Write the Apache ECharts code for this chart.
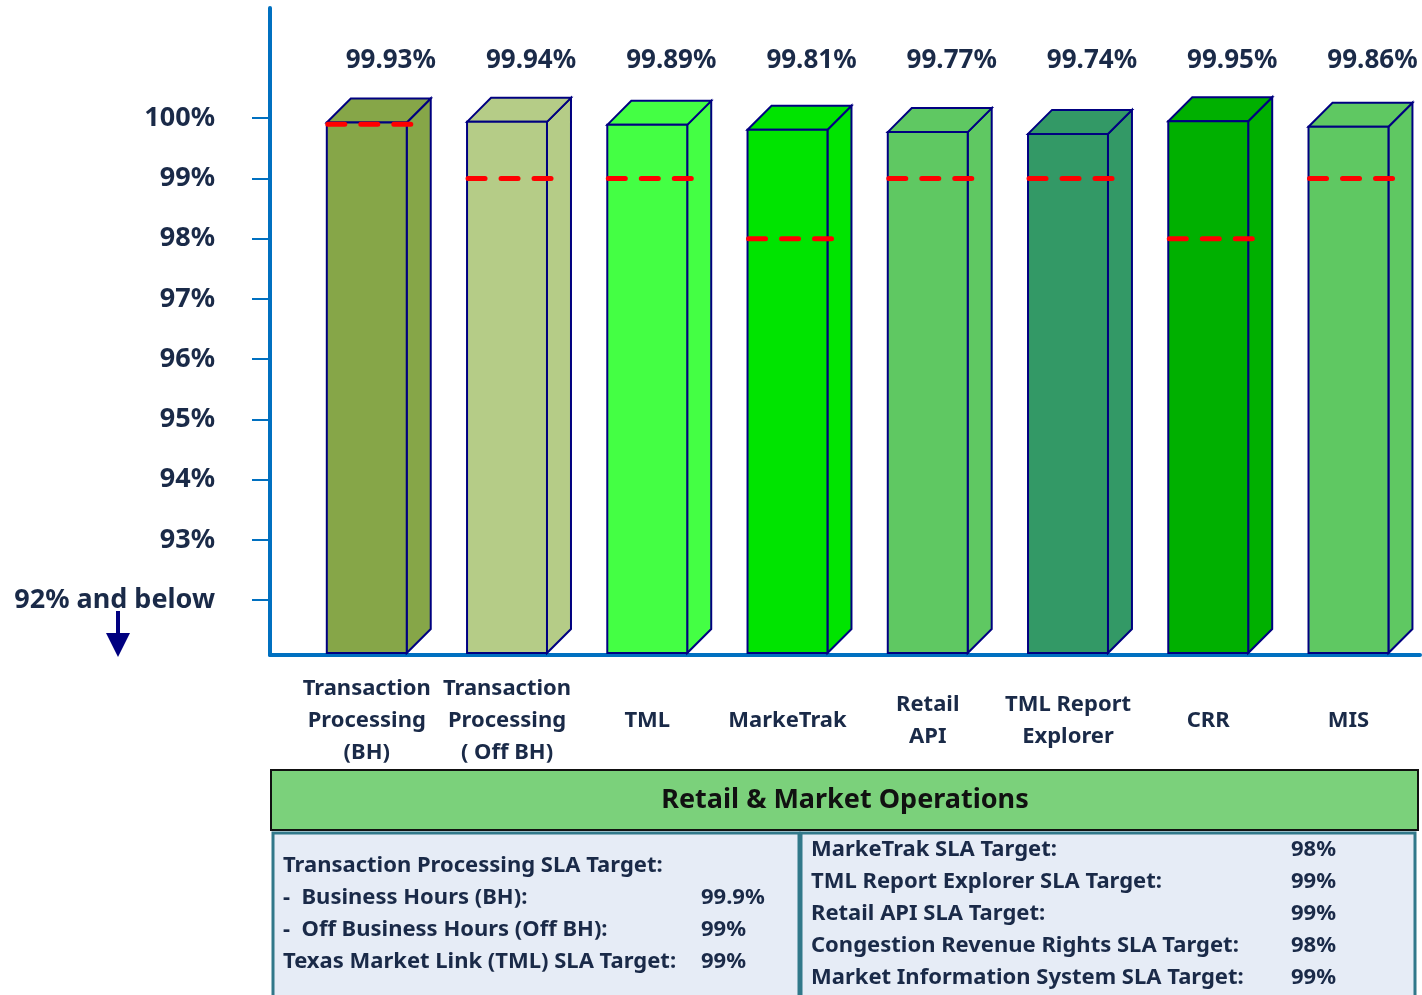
<!DOCTYPE html>
<html>
<head>
<meta charset="utf-8">
<script src="https://cdn.jsdelivr.net/npm/echarts@6/dist/echarts.min.js"></script>
<style>
  html, body { margin: 0; padding: 0; background: #fff; }
  #chart { width: 1422px; height: 995px; }
</style>
</head>
<body>
<div id="chart"></div>
<script>
// SLA availability - Retail & Market Operations
var categories = ['Transaction\nProcessing\n(BH)', 'Transaction\nProcessing\n( Off BH)', 'TML', 'MarkeTrak', 'Retail\nAPI', 'TML Report\nExplorer', 'CRR', 'MIS'];
var actual = [99.93, 99.94, 99.89, 99.81, 99.77, 99.74, 99.95, 99.86];
var target = [99.9, 99, 99, 98, 99, 99, 98, 99];
var barColors = ['#86a648', '#b5cc87', '#44ff44', '#00e400', '#5fc862', '#339966', '#00b000', '#5fc862'];
var yTicks = [92, 93, 94, 95, 96, 97, 98, 99, 100];
var yMin = 91.09, yMax = 101.83;

var headerTitle = 'Retail & Market Operations';
var leftRows = [
  ['Transaction Processing SLA Target:', ''],
  ['-  Business Hours (BH):', '99.9%'],
  ['-  Off Business Hours (Off BH):', '99%'],
  ['Texas Market Link (TML) SLA Target:', '99%']
];
var rightRows = [
  ['MarkeTrak SLA Target:', '98%'],
  ['TML Report Explorer SLA Target:', '99%'],
  ['Retail API SLA Target:', '99%'],
  ['Congestion Revenue Rights SLA Target:', '98%'],
  ['Market Information System SLA Target:', '99%']
];

(function () {
  var font = '"Noto Sans", "Open Sans", sans-serif';
  var ink = '#1a2a48';
  var axisBlue = '#0070c0';
  var outline = '#000080';

  var chart = echarts.init(document.getElementById('chart'));
  var idx = categories.map(function (_, i) { return i; });

  function renderBar(params, api) {
    var i = api.value(0), v = api.value(1);
    var top = api.coord([i, v]);
    var base = api.coord([i, yMin]);
    var w = api.size([1, 0])[0] * 0.57;
    var d = 24;
    var x0 = top[0] - w / 2, x1 = top[0] + w / 2;
    var y0 = top[1], yb = base[1] - 2;
    var st = { fill: barColors[i], stroke: outline, lineWidth: 2, lineJoin: 'miter' };
    return {
      type: 'group',
      children: [
        { type: 'polygon', shape: { points: [[x1, y0], [x1 + d, y0 - d], [x1 + d, yb - d], [x1, yb]] }, style: st },
        { type: 'polygon', shape: { points: [[x0, y0], [x0 + d, y0 - d], [x1 + d, y0 - d], [x1, y0]] }, style: st },
        { type: 'rect', shape: { x: x0, y: y0, width: w, height: yb - y0 }, style: st },
        {
          type: 'text',
          style: {
            x: top[0] + 24, y: params.coordSys.y + 53,
            text: v.toFixed(2) + '%',
            fill: ink, font: 'bold 26px ' + font,
            align: 'center', verticalAlign: 'middle'
          }
        }
      ]
    };
  }

  function renderTarget(params, api) {
    var i = api.value(0), t = api.value(1);
    var p = api.coord([i, t]);
    var w = api.size([1, 0])[0] * 0.57;
    var x0 = p[0] - w / 2;
    return {
      type: 'line',
      shape: { x1: x0 + 1, y1: p[1], x2: x0 + 86, y2: p[1] },
      style: { stroke: '#ff0000', lineWidth: 5, lineDash: [17, 16], lineCap: 'round' },
      z2: 10
    };
  }

  var graphics = [
    // down arrow under "92% and below"
    { type: 'line', shape: { x1: 118, y1: 611, x2: 118, y2: 636 }, style: { stroke: outline, lineWidth: 4 } },
    { type: 'polygon', shape: { points: [[106, 633], [130, 633], [118, 657]] }, style: { fill: outline } },
    // table header
    { type: 'rect', shape: { x: 271, y: 770, width: 1147, height: 60 }, style: { fill: '#7bd17b', stroke: '#111', lineWidth: 2 } },
    { type: 'text', style: { x: 845, y: 800, text: headerTitle, fill: '#111', font: 'bold 27px ' + font, align: 'center', verticalAlign: 'middle' } },
    // target boxes
    { type: 'rect', shape: { x: 273, y: 833, width: 526, height: 175 }, style: { fill: '#e6ecf6', stroke: '#31788a', lineWidth: 3 } },
    { type: 'rect', shape: { x: 801, y: 833, width: 614, height: 175 }, style: { fill: '#e6ecf6', stroke: '#31788a', lineWidth: 3 } }
  ];
  leftRows.forEach(function (r, k) {
    var y = 866 + k * 32;
    graphics.push({ type: 'text', style: { x: 283, y: y, text: r[0], fill: ink, font: 'bold 22px ' + font, verticalAlign: 'middle' } });
    if (r[1]) graphics.push({ type: 'text', style: { x: 701, y: y, text: r[1], fill: ink, font: 'bold 22px ' + font, verticalAlign: 'middle' } });
  });
  rightRows.forEach(function (r, k) {
    var y = 850 + k * 32;
    graphics.push({ type: 'text', style: { x: 811, y: y, text: r[0], fill: ink, font: 'bold 22px ' + font, verticalAlign: 'middle' } });
    graphics.push({ type: 'text', style: { x: 1291, y: y, text: r[1], fill: ink, font: 'bold 22px ' + font, verticalAlign: 'middle' } });
  });

  chart.setOption({
    animation: false,
    backgroundColor: '#fff',
    grid: { left: 270, right: 2, top: 8, bottom: 340 },
    xAxis: {
      type: 'value', min: -0.69, max: 7.51,
      splitLine: { show: false },
      axisLine: { onZero: false, lineStyle: { color: axisBlue, width: 4, cap: 'round' } },
      axisTick: { show: false },
      axisLabel: {
        customValues: idx,
        formatter: function (v) { return categories[Math.round(v)]; },
        color: ink, fontFamily: font, fontWeight: 'bold', fontSize: 22,
        lineHeight: 32, verticalAlign: 'middle', margin: 66
      }
    },
    yAxis: {
      type: 'value', min: yMin, max: yMax,
      splitLine: { show: false },
      axisLine: { show: true, onZero: false, lineStyle: { color: axisBlue, width: 4, cap: 'round' } },
      axisTick: { show: true, customValues: yTicks, length: 18, lineStyle: { color: axisBlue, width: 2 } },
      axisLabel: {
        customValues: yTicks,
        formatter: function (v) { return v === 92 ? '92% and below' : v + '%'; },
        color: ink, fontFamily: font, fontWeight: 'bold', fontSize: 27, margin: 55
      }
    },
    series: [
      { type: 'custom', renderItem: renderBar, data: actual.map(function (v, i) { return [i, v]; }), z: 2 },
      { type: 'custom', renderItem: renderTarget, data: target.map(function (v, i) { return [i, v]; }), z: 3 }
    ],
    graphic: graphics
  });
})();
</script>
</body>
</html>
